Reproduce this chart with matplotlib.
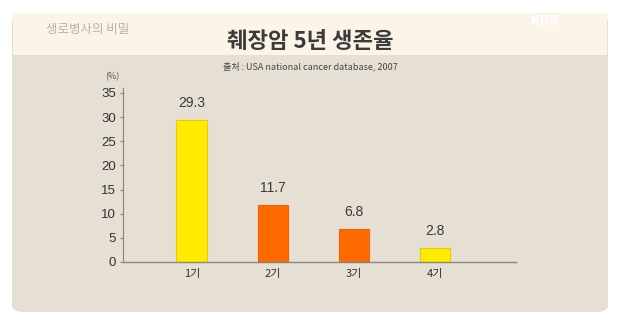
import matplotlib.pyplot as plt
from matplotlib.patches import FancyBboxPatch, Rectangle

# -------------------------
# Data
# -------------------------
stages = ["1기", "2기", "3기", "4기"]
survival = [29.3, 11.7, 6.8, 2.8]
bar_colors = ["#ffea00", "#ff6a00", "#ff6a00", "#ffea00"]
edge_colors = ["#e2cc10", "#f06000", "#f06000", "#e2cc10"]
yticks = [0, 5, 10, 15, 20, 25, 30, 35]

plt.rcParams["font.family"] = ["Noto Sans CJK KR", "DejaVu Sans"]

W, H = 619, 326
fig = plt.figure(figsize=(W / 100, H / 100), dpi=100)
fig.patch.set_facecolor("white")

# -------------------------
# Background panel
# -------------------------
panel = FancyBboxPatch((12 / W, 14 / H), 596 / W, 298 / H,
                       boxstyle="round,pad=0,rounding_size=0.02",
                       transform=fig.transFigure, facecolor="#e6dfd3",
                       edgecolor="none", zorder=-2)
fig.patches.append(panel)
band = Rectangle((13 / W, (H - 55) / H), 594 / W, 42 / H,
                 transform=fig.transFigure, facecolor="#fbf4e7",
                 edgecolor="none", zorder=-1)
fig.patches.append(band)

# -------------------------
# Titles
# -------------------------
fig.text(310 / W, 1 - 41 / H, "췌장암 5년 생존율", ha="center", va="center",
         fontsize=16, fontweight="bold", color="#3b3b3b")
fig.text(310 / W, 1 - 66 / H, "출처 : USA national cancer database, 2007",
         ha="center", va="center", fontsize=6.5, color="#444444")
fig.text(88 / W, 1 - 30 / H, "생로병사의 비밀", ha="center", va="center",
         fontsize=9, color="#b8b0a4", style="italic")
fig.text(545 / W, 1 - 21 / H, "KBS", ha="center", va="center",
         fontsize=10, fontweight="bold", color="white")
fig.text(112 / W, 1 - 77 / H, "(%)", ha="center", va="center",
         fontsize=6.5, color="#555555")

# -------------------------
# Bar chart
# -------------------------
ax = fig.add_axes([123 / W, 64 / H, 393 / W, 174 / H], zorder=2)
ax.set_facecolor("none")
x = list(range(len(stages)))
ax.bar(x, survival, width=0.38, color=bar_colors, edgecolor=edge_colors,
       linewidth=0.8, zorder=2)

for xi, v in zip(x, survival):
    ax.text(xi, v + 2.2, f"{v}", ha="center", va="bottom",
            fontsize=10, color="#3a3a3a", family="Liberation Sans")

ax.set_xlim(-0.85, 4.0)
ax.set_ylim(0, 36)
ax.set_yticks(yticks)
ax.set_yticklabels([str(t) for t in yticks], family="Liberation Sans",
                   fontsize=9.5, color="#333333")
ax.set_xticks(x)
ax.set_xticklabels(stages, fontsize=8, color="#333333")

for side in ["top", "right"]:
    ax.spines[side].set_visible(False)
ax.spines["left"].set_color("#8a8580")
ax.spines["bottom"].set_color("#8a8580")
ax.spines["left"].set_linewidth(0.8)
ax.spines["bottom"].set_linewidth(1.0)
ax.tick_params(axis="y", length=2, width=0.8, color="#8a8580", pad=3)
ax.tick_params(axis="x", length=0, pad=5)

plt.savefig("out.png", dpi=100)
plt.close()
